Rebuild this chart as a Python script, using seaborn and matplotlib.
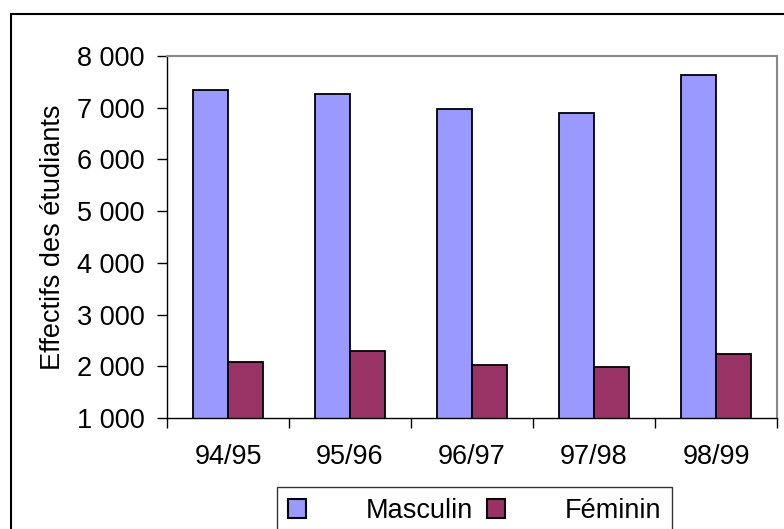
import matplotlib
matplotlib.use("Agg")
import matplotlib.pyplot as plt
import seaborn as sns
import pandas as pd
from matplotlib.patches import Rectangle, Patch
from matplotlib.ticker import FixedLocator, FuncFormatter

# Data
years = ["94/95", "95/96", "96/97", "97/98", "98/99"]
masculin = [7350, 7260, 6975, 6890, 7630]
feminin = [2080, 2300, 2025, 1985, 2245]
series = ["Masculin", "Féminin"]
colors = ["#9999FF", "#993366"]

df = pd.DataFrame({
    "annee": years * 2,
    "effectif": masculin + feminin,
    "sexe": [series[0]] * len(years) + [series[1]] * len(years),
})

sns.set_style("white")
plt.rcParams["font.family"] = ["Liberation Sans", "DejaVu Sans"]
plt.rcParams.update({"text.color": "black", "axes.labelcolor": "black",
                     "xtick.color": "black", "ytick.color": "black"})
FS = 19.5

W, H = 784, 529
fig = plt.figure(figsize=(W / 100, H / 100), dpi=100)

# outer chart frame (runs off right and bottom edges)
fig.patches.append(Rectangle((11 / W, -0.1), 1.1, 1 - 14 / H + 0.1,
                             transform=fig.transFigure, fill=False,
                             edgecolor="black", linewidth=1.5))

ax = fig.add_axes([167 / W, 1 - 418 / H, (777 - 167) / W, (418 - 56) / H])

sns.barplot(data=df, x="annee", y="effectif", hue="sexe", order=years,
            hue_order=series, palette=colors, width=0.57, gap=0,
            edgecolor="black", linewidth=1.3, saturation=1, ax=ax, legend=False)

ax.set_ylim(1000, 8000)
ax.set_xlim(-0.5, len(years) - 0.5)
ax.set_yticks(range(1000, 8001, 1000))
ax.yaxis.set_major_formatter(FuncFormatter(lambda v, p: f"{int(v):,}".replace(",", " ")))
ax.tick_params(axis="y", labelsize=FS, length=7, width=1, pad=9, left=True,
               color="black", labelcolor="black")

# category boundaries get the ticks, labels sit in the middle
ax.xaxis.set_major_locator(FixedLocator([i - 0.5 for i in range(len(years) + 1)]))
ax.xaxis.set_major_formatter(FuncFormatter(lambda v, p: ""))
ax.xaxis.set_minor_locator(FixedLocator(range(len(years))))
ax.set_xticklabels(years, minor=True)
ax.tick_params(axis="x", which="major", length=7, width=1, bottom=True, color="black")
ax.tick_params(axis="x", which="minor", length=0, labelsize=FS, pad=19,
               labelcolor="black")

ax.set_xlabel("")
ax.set_ylabel("Effectifs des étudiants", fontsize=FS, color="black")
ax.yaxis.set_label_coords(-0.165, 0.5)

for side in ["top", "right"]:
    ax.spines[side].set_visible(True)
    ax.spines[side].set_color("#888888")
    ax.spines[side].set_linewidth(1.5)
for side in ["left", "bottom"]:
    ax.spines[side].set_color("black")
    ax.spines[side].set_linewidth(1)

handles = [Patch(facecolor=c, edgecolor="black", linewidth=1.5) for c in colors]
leg = fig.legend(handles, series, loc="upper left",
                 bbox_to_anchor=(277 / W, 1 - 487 / H), ncol=2, fontsize=FS,
                 frameon=True, fancybox=False, borderaxespad=0, borderpad=0.4,
                 handlelength=0.66, handleheight=0.7, handletextpad=2.2,
                 columnspacing=0.55, labelcolor="black")
leg.get_frame().set_edgecolor("black")
leg.get_frame().set_linewidth(1)

fig.savefig("out.png", dpi=100)
